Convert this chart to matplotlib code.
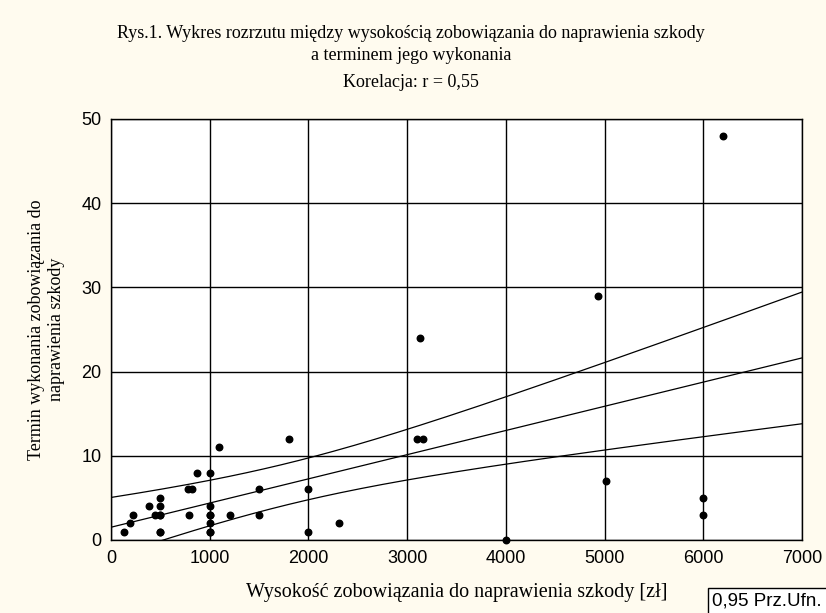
import numpy as np
import matplotlib
matplotlib.use('Agg')
import matplotlib.pyplot as plt

# kwota zobowiazania [zl] i termin wykonania
# (kilka punktow nachodzi na siebie - powtorzone wartosci)
kwota = [130, 190, 220, 380, 450, 500, 500, 500, 500, 790, 780, 820, 870,
         1000, 1000, 1000, 1000, 1000, 1090, 1200, 1500, 1500, 1800, 2000, 2000,
         2310, 3100, 3160, 3130, 4000, 4930, 5010, 6000, 6000, 6200,
         500, 1000, 1000, 500]
termin = [1, 2, 3, 4, 3, 3, 5, 4, 1, 3, 6, 6, 8,
          8, 4, 3, 2, 1, 11, 3, 6, 3, 12, 6, 1,
          2, 12, 12, 24, 0, 29, 7, 5, 3, 48,
          3, 3, 1, 1]

x_ticks = [0, 1000, 2000, 3000, 4000, 5000, 6000, 7000]
y_ticks = [0, 10, 20, 30, 40, 50]
korelacja = '0,55'

bg = '#fffbef'

x = np.array(kwota, dtype=float)
y = np.array(termin, dtype=float)
n = len(x)

# regresja liniowa + 95% przedzial ufnosci dla sredniej
b, a = np.polyfit(x, y, 1)
res = y - (a + b * x)
s = np.sqrt(np.sum(res ** 2) / (n - 2))
sxx = np.sum((x - x.mean()) ** 2)
t = 2.03  # t(0.975, ~35)
xx = np.linspace(0, 7000, 200)
yy = a + b * xx
se = s * np.sqrt(1 / n + (xx - x.mean()) ** 2 / sxx)

fig = plt.figure(figsize=(8.26, 6.13), dpi=100, facecolor=bg)
ax = fig.add_axes([0.1344, 0.1191, 0.8368, 0.6868])
ax.set_facecolor('white')

ax.plot(xx, yy, color='black', lw=0.9)
ax.plot(xx, yy + t * se, color='black', lw=0.9)
ax.plot(xx, yy - t * se, color='black', lw=0.9)
ax.scatter(x, y, s=22, color='black', zorder=3, clip_on=False)

ax.set_xlim(0, 7000)
ax.set_ylim(0, 50)
ax.set_xticks(x_ticks)
ax.set_yticks(y_ticks)
ax.grid(True, color='black', lw=1)
ax.tick_params(length=0, pad=7, labelsize=13)
for lab in ax.get_xticklabels() + ax.get_yticklabels():
    lab.set_family('Liberation Sans')
for sp in ax.spines.values():
    sp.set_linewidth(1)

serif = 'Liberation Serif'
fig.text(0.498, 0.946, 'Rys.1. Wykres rozrzutu między wysokością zobowiązania do naprawienia szkody',
         ha='center', va='center', fontsize=13, family=serif)
fig.text(0.498, 0.910, 'a terminem jego wykonania',
         ha='center', va='center', fontsize=13, family=serif)
fig.text(0.498, 0.866, 'Korelacja: r = ' + korelacja,
         ha='center', va='center', fontsize=13, family=serif)

ax.set_xlabel('Wysokość zobowiązania do naprawienia szkody [zł]',
              fontsize=14.5, family=serif, labelpad=12)
ax.set_ylabel('Termin wykonania zobowiązania do\nnaprawienia szkody',
              fontsize=13, family=serif, labelpad=12, linespacing=1.2)

fig.text(0.8625, 0.012, '0,95 Prz.Ufn.', fontsize=13.5, family='Liberation Sans',
         bbox=dict(boxstyle='square,pad=0.25', fc='white', ec='black', lw=1))

fig.savefig('out.png', dpi=100, facecolor=bg)
